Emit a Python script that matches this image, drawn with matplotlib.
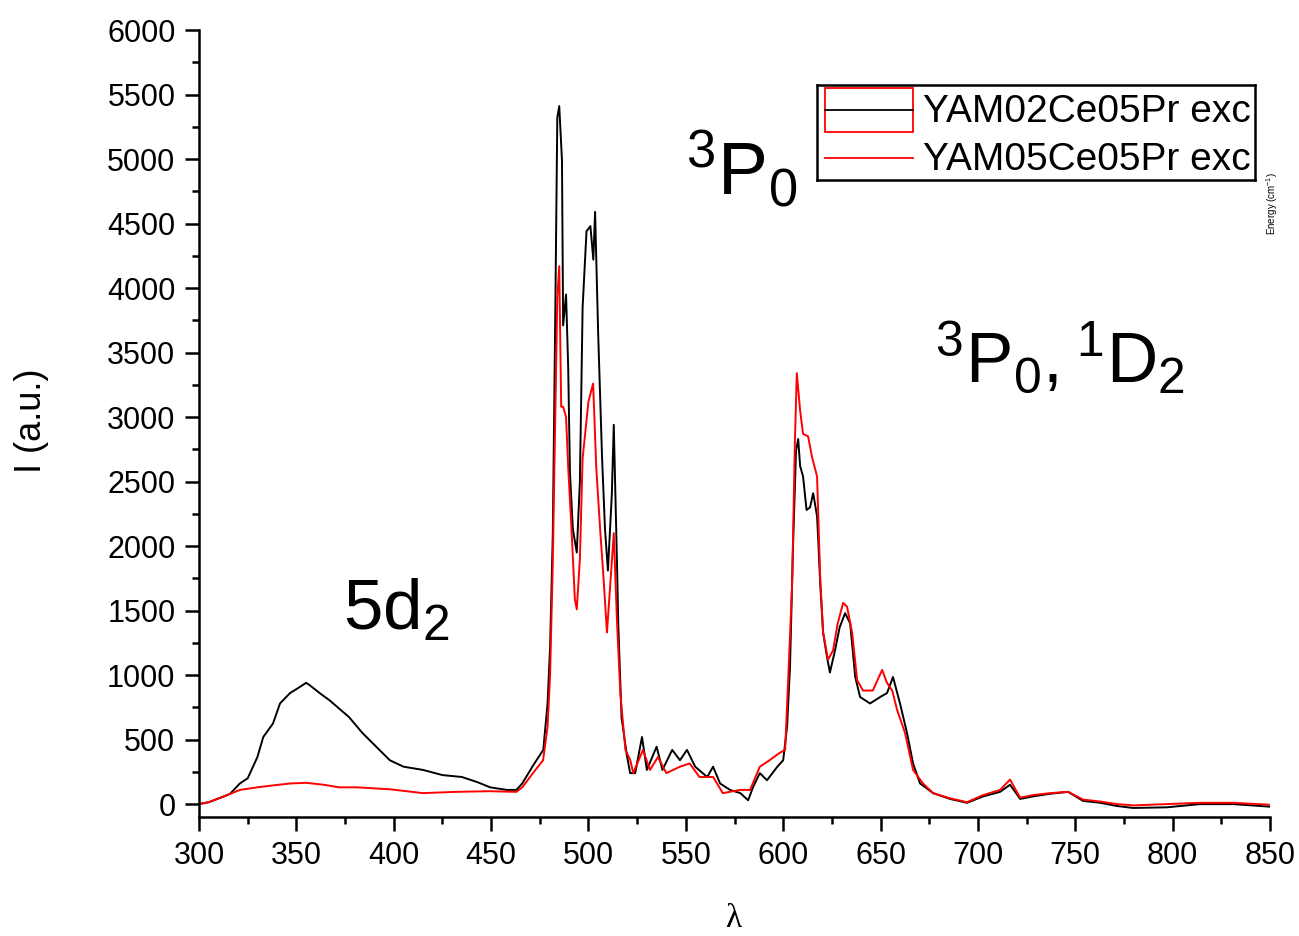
import matplotlib
matplotlib.use("Agg")
import matplotlib.pyplot as plt
from matplotlib.ticker import MultipleLocator

plt.rcParams['font.family'] = ['Liberation Sans', 'DejaVu Sans']
plt.rcParams['mathtext.fontset'] = 'custom'
plt.rcParams['mathtext.rm'] = 'Liberation Sans'

# YAM02Ce05Pr exc (black)
wl_02 = [300, 305, 312, 316, 321, 325, 330, 333, 338, 341.6, 346.7, 352, 355, 357, 362, 367,
         372, 377, 384, 391, 398, 405, 415, 425, 435, 443, 449.5, 458, 463, 466, 471.6,
         476.8, 479, 480.3, 481.7, 483, 484, 485, 486.4, 487, 488.5, 489.6, 490.5, 492,
         494, 495.6, 497, 499, 501, 502.5, 503.4, 505, 507, 508.5, 510, 512, 513, 514.7,
         515.3, 517, 519.7, 521.4, 524, 527.5, 530, 535, 538, 543, 547, 550.6, 554.8, 561,
         564, 567.6, 572.7, 578, 582, 584.5, 588, 591.7, 597, 600, 602, 603.5, 605, 606.6,
         607.7, 608.7, 610.2, 612, 613.8, 615.4, 617.4, 618, 619, 620.5, 622.5, 624, 626.6,
         629, 631.8, 634.4, 637, 639.5, 644.6, 649.8, 653.3, 656.4, 660, 663.6, 666.7,
         670.3, 677, 685.7, 694.4, 702.7, 711.4, 716.5, 721.7, 728.4, 737, 746.3, 754,
         762.8, 771.5, 779.7, 797, 814, 831, 850]
int_02 = [0, 15, 55, 80, 160, 200, 365, 520, 625, 780, 860, 910, 940, 920, 860, 805,
          740, 675, 550, 445, 340, 290, 265, 225, 210, 170, 130, 110, 110, 160, 300,
          420, 780, 1220, 2100, 3850, 5320, 5410, 4990, 3710, 3950, 3380, 2570, 2130,
          1950, 2500, 3850, 4440, 4480, 4220, 4590, 3640, 2680, 2130, 1810, 2400, 2940, 1840,
          1400, 670, 380, 240, 240, 520, 265, 445, 265, 420, 340, 420, 290, 210,
          290, 160, 110, 85, 30, 130, 240, 185, 290, 340, 600, 1060, 1970, 2740,
          2830, 2620, 2540, 2280, 2300, 2410, 2230, 2050, 1710, 1330, 1140, 1020, 1190,
          1370, 1480, 1400, 985, 830, 780, 830, 860, 985, 780, 550, 315,
          160, 85, 40, 10, 60, 95, 150, 40, 60, 80, 95, 25,
          10, -15, -30, -25, 0, 0, -20]

# YAM05Ce05Pr exc (red)
wl_05 = [300, 305, 312, 321, 330, 338, 347, 355, 364, 372, 381, 398, 415, 432, 449, 463,
         466, 471.5, 476.7, 479, 480.3, 481.7, 483, 484, 485, 486, 487, 488.5, 489.6,
         491.3, 493, 494, 495.6, 497, 500, 502.4, 504, 506, 507.8, 509.5, 511, 513, 514.7,
         516.4, 519, 521.5, 523, 528, 531.6, 535.7, 540, 547, 552, 557, 564, 569, 578,
         583, 588, 593, 598, 601, 602.5, 604.6, 606, 607, 608.7, 610.2, 612.8, 614.8,
         617.4, 619, 620.5, 623, 625.6, 628, 630.8, 632.8, 635.4, 638, 641, 646, 650.8,
         653.3, 656, 658.5, 662.6, 666.7, 671.8, 677, 685.7, 694.4, 702.7, 711.4, 716.5,
         721.7, 728.4, 737, 746.3, 754, 762.8, 771.5, 779.7, 797, 814, 831, 850]
int_05 = [0, 15, 55, 110, 130, 145, 160, 165, 150, 130, 130, 115, 85, 95, 100, 95,
          130, 240, 340, 600, 1000, 1880, 3050, 3930, 4170, 3080, 3080, 3000, 2610,
          2130, 1590, 1510, 1900, 2680, 3120, 3260, 2610, 2130, 1740, 1330, 1660, 2100, 1400,
          850, 420, 340, 240, 420, 265, 365, 240, 290, 315, 210, 210, 85, 110,
          110, 290, 340, 395, 420, 940, 1710, 2800, 3340, 3050, 2870, 2850, 2690,
          2540, 1760, 1330, 1120, 1190, 1400, 1560, 1530, 1330, 960, 880, 880, 1040,
          940, 880, 730, 550, 265, 160, 85, 45, 15, 70, 110, 190,
          50, 70, 85, 95, 35, 20, 0, -10, 0, 10, 10, -5]

series_names = ['YAM02Ce05Pr exc', 'YAM05Ce05Pr exc']

W, H = 1299, 936
fig = plt.figure(figsize=(W / 100, H / 100), dpi=100)
ax = fig.add_axes([199 / W, 1 - 817 / H, 1071 / W, 787 / H])

ax.plot(wl_02, int_02, color='black', lw=1.4)
ax.plot(wl_05, int_05, color='red', lw=1.4)

ax.set_xlim(300, 850)
ax.set_ylim(-100, 6000)
ax.xaxis.set_major_locator(MultipleLocator(50))
ax.xaxis.set_minor_locator(MultipleLocator(25))
ax.yaxis.set_major_locator(MultipleLocator(500))
ax.yaxis.set_minor_locator(MultipleLocator(250))
for s in ['top', 'right']:
    ax.spines[s].set_visible(False)
for s in ['left', 'bottom']:
    ax.spines[s].set_linewidth(1.8)
ax.tick_params(which='major', direction='out', length=10, width=1.8, labelsize=22, pad=7)
ax.tick_params(which='minor', direction='out', length=5, width=1.8)

fig.text(32 / W, 1 - 421 / H, 'I (a.u.)', rotation=90, ha='center', va='center', fontsize=26)
fig.text(733 / W, 1 - 919 / H, 'λ', ha='center', va='center', fontsize=24,
         family=['Liberation Serif', 'DejaVu Serif'])

# band labels
ax.text(374, 1350, r'$\mathregular{5d_{2}}$', fontsize=51)
ax.text(550, 4720, r'$\mathregular{^{3}P_{0}}$', fontsize=54)
ax.text(678, 3270, r'$\mathregular{^{3}P_{0},^{1}D_{2}}$', fontsize=51)

# legend box, drawn in pixel units
lax = fig.add_axes([817 / W, 1 - 180 / H, (1255 - 817) / W, 95 / H])
lax.set_xlim(817, 1255)
lax.set_ylim(180, 85)
lax.set_xticks([])
lax.set_yticks([])
for s in lax.spines.values():
    s.set_linewidth(1.8)
lax.add_patch(plt.Rectangle((825, 88), 88, 44, fill=False, edgecolor='red', lw=1.3))
lax.plot([825, 913], [110, 110], color='black', lw=1.3)
lax.plot([825, 913], [158, 158], color='red', lw=1.3)
lax.text(923, 122, series_names[0], fontsize=28, va='baseline', clip_on=True)
lax.text(923, 170, series_names[1], fontsize=28, va='baseline', clip_on=True)

fig.text(1272 / W, 1 - 204 / H, r'Energy (cm$^{-1}$)', rotation=90, ha='center', va='center',
         fontsize=7)

fig.savefig('out.png', dpi=100)
